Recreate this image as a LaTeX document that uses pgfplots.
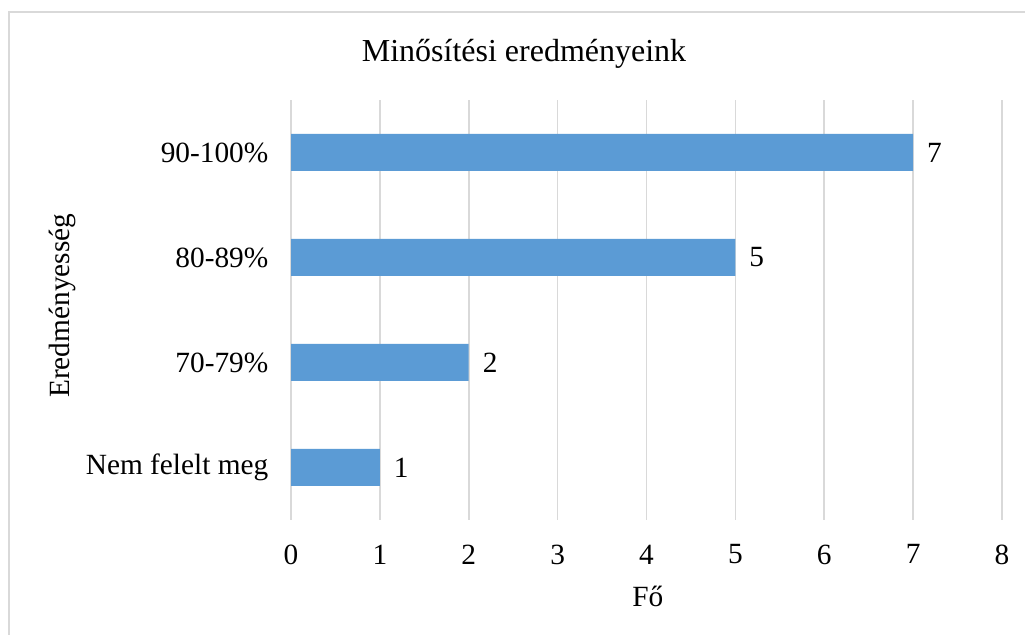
\documentclass[border=0pt]{standalone}
\usepackage{pgfplots}
\pgfplotsset{compat=1.18}
\usepackage{fontspec}
\setmainfont{Liberation Serif}
\definecolor{barblue}{HTML}{5B9BD5}
\definecolor{gridgray}{HTML}{D9D9D9}
\begin{document}
\begin{tikzpicture}
\useasboundingbox (0pt,0pt) rectangle (768.75pt,476.25pt);
\fill[white] (0pt,0pt) rectangle (768.75pt,476.25pt);
\draw[gridgray,line width=1.5pt] (6.75pt,-5pt) -- (6.75pt,467.25pt) -- (775pt,467.25pt);
\node[font=\fontsize{24}{28}\selectfont] at (393pt,435.5pt) {Minősítési eredményeink};
\begin{axis}[
  at={(218.25pt,86.25pt)}, anchor=south west,
  scale only axis, width=533.25pt, height=315pt,
  xbar, bar width=27.75pt,
  xmin=0, xmax=8, ymin=-0.5, ymax=3.5,
  xtick={0,1,...,8},
  ytick={0,1,2,3},
  yticklabels={Nem felelt meg,70-79\%,80-89\%,90-100\%},
  axis line style={draw=none},
  major tick length=0pt,
  xmajorgrids, major grid style={gridgray,line width=1.2pt},
  tick label style={font=\fontsize{22}{26}\selectfont},
  /pgf/number format/assume math mode=true,
  xticklabel style={yshift=-15pt},
  yticklabel style={xshift=-13.5pt},
  xlabel={Fő}, ylabel={Eredményesség},
  label style={font=\fontsize{22}{26}\selectfont},
  xlabel style={at={(axis description cs:0.502,-0.183)},anchor=center},
  ylabel style={at={(axis description cs:-0.322,0.51)},anchor=center},
  nodes near coords,
  every node near coord/.append style={font=\fontsize{22}{26}\selectfont, xshift=7pt, black},
  clip=false,
]
\addplot[fill=barblue, draw=none] coordinates {(1,0) (2,1) (5,2) (7,3)};
\end{axis}
\end{tikzpicture}
\end{document}
